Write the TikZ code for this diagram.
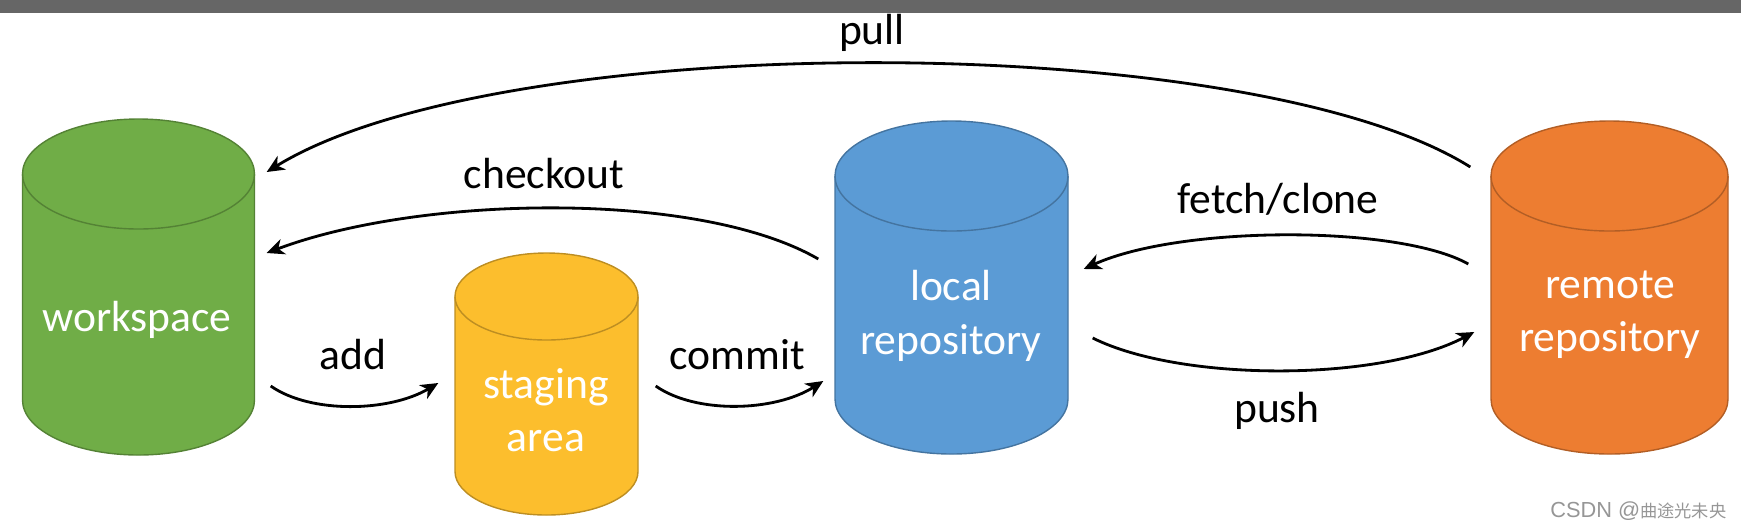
\documentclass[tikz,border=0pt]{standalone}
\usepackage{fontspec}
\setmainfont{Carlito}
\newfontfamily\cjkfont{Noto Sans CJK SC}
\newfontfamily\markfont{Liberation Sans}
\usetikzlibrary{arrows.meta,fit}

\definecolor{wsgreen}{RGB}{112,173,71}
\definecolor{sagold}{RGB}{252,190,45}
\definecolor{lrblue}{RGB}{91,155,213}
\definecolor{rrorange}{RGB}{237,125,49}
\definecolor{bargray}{RGB}{102,102,102}
\definecolor{markgray}{RGB}{150,150,150}

\tikzset{
  drum/.style={line width=0.4pt},
  drumtext/.style={white, align=center, font=\fontsize{12.4}{15.2}\selectfont},
  cmd/.style={black, font=\fontsize{12.4}{14}\selectfont},
  flow/.style={line width=0.8pt, -{Stealth[length=5pt,width=4.5pt,inset=1.5pt]}},
}

% name, centre x, top centre y, bottom centre y, x radius, y radius, colour
\newcommand{\drum}[7]{%
  \draw[drum, fill=#7, draw=#7!75!black] (#2-#5,#3) -- (#2-#5,#4)
    arc[start angle=180, end angle=360, x radius=#5, y radius=#6] -- (#2+#5,#3)
    arc[start angle=0, end angle=180, x radius=#5, y radius=#6] -- cycle;
  \draw[drum, draw=#7!75!black] (#2-#5,#3) arc[start angle=180, end angle=360, x radius=#5, y radius=#6];
  \node[fit={(#2-#5,#4-#6) (#2+#5,#3+#6)}, inner sep=0pt] (#1) {};
}

\begin{document}
\begin{tikzpicture}
\useasboundingbox (0,0) rectangle (17.41,5.30);
\fill[bargray] (0,5.17) rectangle (17.41,5.30);

% the four stores
\drum{ws}{1.385}{3.56}{1.30}{1.16}{0.55}{wsgreen}
\drum{sa}{5.465}{2.335}{0.585}{0.915}{0.435}{sagold}
\drum{lr}{9.515}{3.54}{1.31}{1.165}{0.55}{lrblue}
\drum{rr}{16.095}{3.54}{1.31}{1.185}{0.55}{rrorange}

\node[drumtext] (wstext) at (1.37,2.10) {workspace};
\node[drumtext] (satext) at (5.46,1.20) {staging\\area};
\node[drumtext] (lrtext) at (9.51,2.14) {local\\repository};
\node[drumtext] (rrtext) at (16.10,2.15) {remote\\repository};

% commands
\node[cmd] (pull) at (8.72,4.97) {pull};
\node[cmd] (checkout) at (5.44,3.56) {checkout};
\node[cmd] (fetch) at (12.78,3.31) {fetch/clone};
\node[cmd] (push) at (12.77,1.19) {push};
\node[cmd] (add) at (3.53,1.75) {add};
\node[cmd] (commit) at (7.37,1.75) {commit};

\draw[flow] ([shift={(-0.20,1.205)}]rr.west) .. controls +(-2.21,1.39) and +(2.34,1.44) .. ([shift={(0.115,1.15)}]ws.east);
\draw[flow] ([shift={(-0.16,0.285)}]lr.west) .. controls +(-1.19,0.69) and +(1.54,0.58) .. ([shift={(0.115,0.34)}]ws.east);
\draw[flow] ([shift={(-0.22,0.235)}]rr.west) .. controls +(-0.69,0.39) and +(0.97,0.44) .. ([shift={(0.15,0.185)}]lr.east);
\draw[flow] ([shift={(0.24,-0.505)}]lr.east) .. controls +(0.88,-0.44) and +(-0.95,-0.50) .. ([shift={(-0.16,-0.445)}]rr.west);
\draw[flow] ([shift={(0.155,-0.99)}]ws.east) .. controls +(0.40,-0.28) and +(-0.49,-0.29) .. ([shift={(-0.16,0.01)}]sa.west);
\draw[flow] ([shift={(0.17,-0.02)}]sa.east) .. controls +(0.40,-0.28) and +(-0.49,-0.31) .. ([shift={(-0.11,-0.935)}]lr.west);

\node[anchor=east, markgray, inner sep=0pt] (mark) at (17.27,0.19)
  {\markfont\fontsize{6.2}{7}\selectfont CSDN @\cjkfont\fontsize{4.9}{6}\selectfont 曲途光未央};
\end{tikzpicture}
\end{document}
